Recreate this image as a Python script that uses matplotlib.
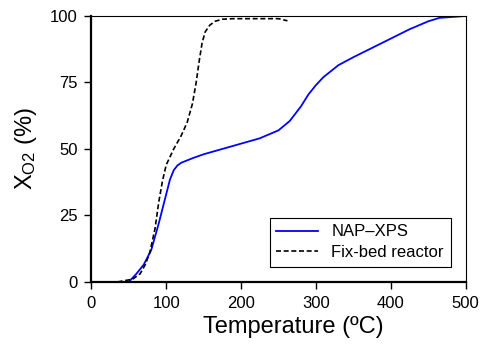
import numpy as np
import matplotlib
matplotlib.use('Agg')
import matplotlib.pyplot as plt

plt.rcParams['font.family'] = ['Liberation Sans', 'DejaVu Sans']
plt.rcParams['mathtext.fontset'] = 'custom'
plt.rcParams['mathtext.rm'] = 'Liberation Sans'
plt.rcParams['mathtext.it'] = 'Liberation Sans'

# NAP-XPS conversion
nap_temp = [50, 60, 70, 80, 90, 100, 105, 110, 115, 120, 135, 150, 175, 200, 225, 250, 265,
            280, 290, 300, 310, 330, 350, 375, 400, 425, 450, 465, 480, 500]
nap_conv = [0, 3, 6.5, 12, 22, 33, 38.5, 42, 43.8, 44.8, 46.5, 48, 50, 52, 54, 57, 60.5,
            66, 70.5, 74, 77, 81.5, 84.5, 88, 91.5, 95, 98, 99.3, 99.6, 100]

# Fix-bed reactor conversion
fix_temp = [35, 45, 55, 65, 72, 78, 85, 90, 95, 100, 110, 120, 128, 135, 140,
            144, 148, 152, 158, 165, 175, 190, 220, 250, 262]
fix_conv = [0, 0.5, 1, 3, 6.5, 11, 20, 30, 38, 44, 50, 55, 60, 67, 75,
            83, 90, 94, 96.5, 98, 98.8, 99, 99, 99, 98.2]

fig, ax = plt.subplots(figsize=(4.81, 3.48), dpi=100)
fig.subplots_adjust(left=0.19, right=0.968, top=0.954, bottom=0.19)

ax.plot(nap_temp, nap_conv, color='#0000ff', lw=1.3, label='NAP\u2013XPS')
ax.plot(fix_temp, fix_conv, color='black', lw=1.2, ls=(0, (3, 1.6)), label='Fix-bed reactor')

ax.set_xlim(0, 500)
ax.set_ylim(0, 100)
ax.set_xticks([0, 100, 200, 300, 400, 500])
ax.set_yticks([0, 25, 50, 75, 100])
ax.tick_params(direction='out', length=5, width=1, labelsize=12, colors='black', pad=5)

for side in ['left', 'bottom']:
    ax.spines[side].set_linewidth(1.6)
for side in ['top', 'right']:
    ax.spines[side].set_linewidth(0.8)

ax.set_xlabel('Temperature (ºC)', fontsize=17, labelpad=7)
ax.xaxis.set_label_coords(0.54, -0.13)
ax.set_ylabel(r'X$_{\mathrm{O2}}$ (%)', fontsize=17, labelpad=8)

leg = ax.legend(loc='lower right', bbox_to_anchor=(0.96, 0.056), borderaxespad=0,
                fontsize=12, frameon=True, fancybox=False, framealpha=1, edgecolor='black',
                handlelength=2.5, borderpad=0.4, labelspacing=0.35, handletextpad=0.8)
leg.get_frame().set_linewidth(0.8)

fig.savefig('out.png', dpi=100)
